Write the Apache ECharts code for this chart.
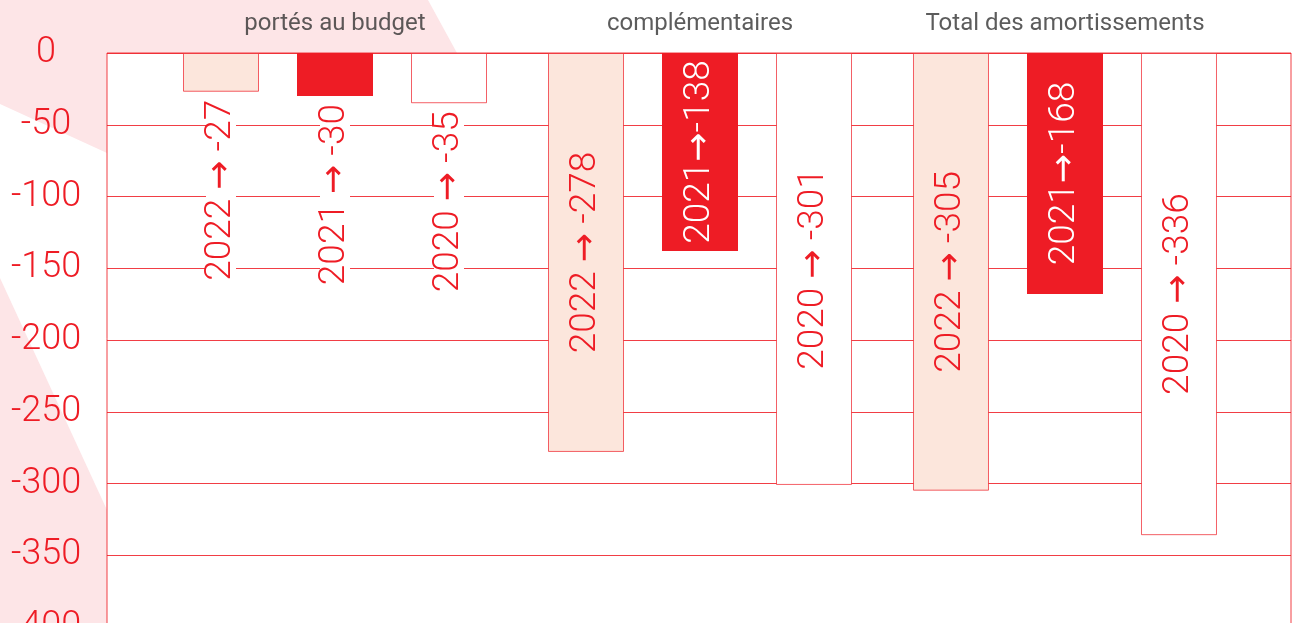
<!DOCTYPE html>
<html>
<head>
<meta charset="utf-8">
<script src="https://cdn.jsdelivr.net/npm/echarts@6/dist/echarts.min.js"></script>
<style>
    html, body { margin: 0; padding: 0; background: #fff; }
    #chart { width: 1293px; height: 623px; }
</style>
</head>
<body>
<div id="chart"></div>
<script>
// groupes de dotations
const groups = ['portés au budget', 'complémentaires', 'Total des amortissements'];
const years = ['2022', '2021', '2020'];
const values2022 = [-27, -278, -305];
const values2021 = [-30, -138, -168];
const values2020 = [-35, -301, -336];

const RED = '#EE1C25';
const PINK = '#FDE5E7';
const FONT = 'Roboto, "Liberation Sans", sans-serif';

const seriesValues = [values2022, values2021, values2020];
const fills = ['#FCE6DC', RED, '#FFFFFF'];
const textColors = [RED, '#FFFFFF', RED];

// styles riches : chiffres fins + fleche DejaVu
function richFor(color) {
    return {
        n: { fontSize: 37, fontFamily: FONT, fontWeight: 300, color: color, lineHeight: 30 },
        a: { fontSize: 35, fontFamily: '"DejaVu Sans"', fontWeight: 'normal', color: color, lineHeight: 30 }
    };
}

// construire les points d'une serie, etiquette sous la barre quand elle est trop courte
function buildData(vals) {
    return vals.map((v, i) => {
        const item = { value: [i + 1, v] };
        if (v > -100) {
            item.label = {
                position: 'bottom',
                distance: 8,
                align: 'right',
                verticalAlign: 'middle',
                color: RED,
                backgroundColor: '#fff',
                rich: richFor(RED)
            };
        }
        return item;
    });
}

const chart = echarts.init(document.getElementById('chart'));

const barSeries = years.map((year, k) => ({
    name: year,
    type: 'bar',
    barWidth: 76,
    barGap: '50%',
    data: buildData(seriesValues[k]),
    itemStyle: {
        color: fills[k],
        borderColor: k === 1 ? RED : 'rgba(238,28,37,0.7)',
        borderWidth: k === 1 ? 0 : 1
    },
    label: {
        show: true,
        position: 'inside',
        rotate: 90,
        fontSize: 37,
        fontFamily: FONT,
        fontWeight: 300,
        color: textColors[k],
        lineHeight: 30,
        rich: richFor(textColors[k]),
        formatter: (p) => {
            const tight = k === 1 && p.value[1] <= -100;
            const sep = tight ? '' : ' ';
            return '{n|' + year + '}' + sep + '{a|→}' + sep + '{n|' + p.value[1] + '}';
        }
    },
    z: 3
}));

const option = {
    animation: false,
    backgroundColor: '#fff',
    graphic: [
        {
            type: 'polygon',
            z: -10,
            silent: true,
            shape: { points: [[0, 0], [428, 0], [457, 53], [107, 53], [107, 153], [0, 104]] },
            style: { fill: PINK }
        },
        {
            type: 'polygon',
            z: -10,
            silent: true,
            shape: { points: [[0, 278], [107, 510], [107, 623], [0, 623]] },
            style: { fill: PINK }
        }
    ],
    grid: {
        left: 107,
        right: 2,
        top: 53,
        height: 574,
        outerBoundsMode: 'none',
        containLabel: false,
        show: true,
        backgroundColor: '#fff',
        borderColor: 'rgba(238,28,37,0.85)',
        borderWidth: 1
    },
    xAxis: {
        type: 'value',
        min: 0.37534,
        max: 3.61918,
        axisLine: { show: false },
        axisTick: { show: false },
        axisLabel: { show: false },
        splitLine: { show: false }
    },
    yAxis: {
        type: 'value',
        min: -400,
        max: 0,
        interval: 50,
        axisLine: { show: false },
        axisTick: { show: false },
        axisLabel: {
            color: RED,
            fontSize: 36,
            fontFamily: FONT,
            fontWeight: 300,
            align: 'center',
            margin: 61,
            padding: [0, 0, 24, 0]
        },
        splitLine: { lineStyle: { color: RED, width: 1, opacity: 0.85 } }
    },
    series: barSeries.concat([{
        type: 'scatter',
        symbolSize: 0,
        silent: true,
        clip: false,
        data: groups.map((g, i) => ({ name: g, value: [i + 1, 0] })),
        label: {
            show: true,
            position: 'top',
            distance: 17,
            formatter: '{b}',
            color: '#333333',
            fontSize: 24,
            fontFamily: FONT,
            fontWeight: 400
        }
    }])
};

chart.setOption(option);
</script>
</body>
</html>
